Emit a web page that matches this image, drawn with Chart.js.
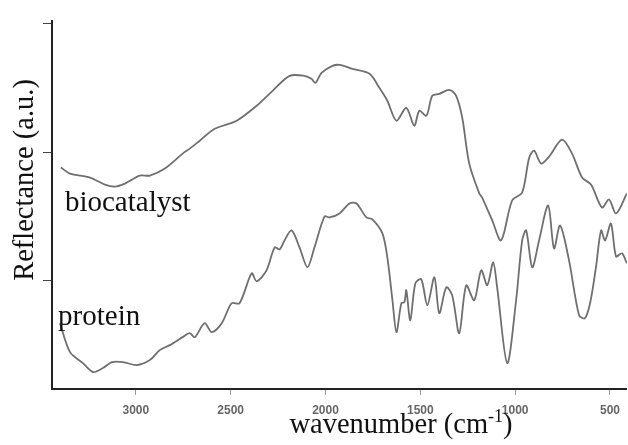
<!DOCTYPE html>
<html lang="en">
<head>
    <meta charset="UTF-8">
    <title>Reflectance spectra</title>
    <script src="https://cdn.jsdelivr.net/npm/chart.js"></script>
    <style>
        html, body {
            margin: 0;
            padding: 0;
            background: #fff;
        }
        #spectra {
            display: block;
        }
    </style>
</head>
<body>
    <canvas id="spectra" width="628" height="445"></canvas>
    <script>
// wavenumber (cm-1) / reflectance (a.u.)
const bioWavenumber = [3395, 3347, 3242, 3163, 3111, 3058, 2979, 2926, 2847, 2753, 2716, 2663, 2584, 2468, 2363,
    2279, 2189, 2111, 2074, 2053, 2021, 1963, 1926, 1858, 1768, 1716, 1674, 1626, 1574, 1532, 1505, 1468, 1437,
    1400, 1347, 1311, 1279, 1242, 1189, 1174, 1121, 1074, 1016, 963, 926, 900, 863, 821, 753, 700, 647, 600, 542,
    505, 468, 411];
const bioReflectance = [222, 216, 212, 205, 203, 206, 214, 214, 221, 236, 241, 249, 261, 269, 284,
    299, 314, 314, 311, 307, 317, 324, 325, 321, 316, 302, 289, 269, 282, 264, 279, 274, 294,
    296, 300, 294, 272, 226, 196, 192, 169, 149, 189, 197, 232, 239, 226, 233, 250, 236, 212, 205, 182,
    190, 176, 196];

const protWavenumber = [3400, 3347, 3279, 3226, 3174, 3126, 3068, 2995, 2926, 2874, 2821, 2753, 2716, 2689, 2637,
    2600, 2547, 2495, 2453, 2389, 2363, 2311, 2268, 2242, 2216, 2179, 2137, 2095, 2058, 2005, 1979, 1926, 1874,
    1837, 1784, 1753, 1700, 1674, 1647, 1626, 1600, 1584, 1574, 1553, 1526, 1495, 1463, 1426, 1400, 1363, 1332,
    1295, 1258, 1216, 1179, 1147, 1116, 1095, 1042, 995, 963, 942, 910, 874, 826, 795, 763, 716, 663, 632, 605,
    574, 547, 526, 495, 468, 437, 411];
const protReflectance = [66, 37, 26, 17, 21, 27, 27, 24, 29, 39, 44, 52, 56, 52, 66,
    57, 66, 86, 86, 116, 108, 119, 142, 140, 149, 159, 142, 122, 142, 173, 172, 176, 186,
    186, 172, 170, 156, 132, 89, 57, 86, 87, 99, 69, 106, 110, 84, 112, 76, 102, 94,
    56, 104, 89, 119, 104, 127, 102, 26, 89, 149, 159, 122, 149, 184, 141, 164, 129, 74, 71, 86,
    122, 159, 149, 166, 133, 136, 126];

const xTicks = [3000, 2500, 2000, 1500, 1000, 500];
const yTicks = [109, 237, 366];

// curve names written next to the spectra, anchored in data units
const curveLabels = [
    { text: 'biocatalyst', x: 3374, y: 178 },
    { text: 'protein', x: 3410, y: 64 }
];

const toPoints = (xs, ys) => xs.map((x, i) => ({ x: x, y: ys[i] }));

const serif = '"Liberation Serif", "Times New Roman", serif';

const textPlugin = {
    id: 'spectraText',
    afterDraw(chart) {
        const ctx = chart.ctx;
        const area = chart.chartArea;
        const xs = chart.scales.x;
        const ys = chart.scales.y;
        ctx.save();
        ctx.fillStyle = '#111';

        // curve labels
        ctx.font = '29px ' + serif;
        ctx.textAlign = 'left';
        ctx.textBaseline = 'alphabetic';
        curveLabels.forEach(l => {
            ctx.fillText(l.text, xs.getPixelForValue(l.x), ys.getPixelForValue(l.y));
        });

        // x axis title with superscript
        const main = 'wavenumber (cm';
        const sup = '-1';
        const close = ')';
        const big = '28.5px ' + serif;
        const small = '18px ' + serif;
        ctx.font = big;
        const wMain = ctx.measureText(main).width;
        const wClose = ctx.measureText(close).width;
        ctx.font = small;
        const wSup = ctx.measureText(sup).width;
        let tx = 401 - (wMain + wSup + wClose) / 2;
        const ty = 433;
        ctx.font = big;
        ctx.fillText(main, tx, ty);
        tx += wMain;
        ctx.font = small;
        ctx.fillText(sup, tx, ty - 11);
        tx += wSup;
        ctx.font = big;
        ctx.fillText(close, tx, ty);

        // y axis title
        ctx.translate(area.left - 26, 180);
        ctx.rotate(-Math.PI / 2);
        ctx.textAlign = 'center';
        ctx.textBaseline = 'middle';
        ctx.font = big;
        ctx.fillText('Reflectance (a.u.)', 0, 0);
        ctx.restore();
    }
};

new Chart(document.getElementById('spectra'), {
    type: 'line',
    data: {
        datasets: [
            {
                label: 'biocatalyst',
                data: toPoints(bioWavenumber, bioReflectance),
                borderColor: '#6f6f6f',
                borderWidth: 1.8,
                pointRadius: 0,
                tension: 0.3,
                fill: false
            },
            {
                label: 'protein',
                data: toPoints(protWavenumber, protReflectance),
                borderColor: '#6f6f6f',
                borderWidth: 1.8,
                pointRadius: 0,
                tension: 0.3,
                fill: false
            }
        ]
    },
    options: {
        responsive: false,
        animation: false,
        events: [],
        layout: { padding: { top: 21, right: 0, left: 0, bottom: 0 } },
        plugins: {
            legend: { display: false },
            tooltip: { enabled: false },
            title: { display: false }
        },
        scales: {
            x: {
                type: 'linear',
                reverse: true,
                min: 411,
                max: 3442,
                afterBuildTicks: scale => { scale.ticks = xTicks.map(v => ({ value: v })); },
                afterFit: scale => { scale.height = 56; },
                grid: {
                    drawOnChartArea: false,
                    drawTicks: true,
                    tickLength: 6,
                    color: '#999'
                },
                border: { display: true, color: '#222', width: 2 },
                ticks: {
                    padding: 8,
                    maxRotation: 0,
                    color: '#666',
                    callback: v => String(v),
                    font: { family: '"Liberation Sans", Arial, sans-serif', size: 12, weight: 'bold' }
                }
            },
            y: {
                type: 'linear',
                min: 0,
                max: 369,
                afterBuildTicks: scale => { scale.ticks = yTicks.map(v => ({ value: v })); },
                afterFit: scale => { scale.width = 52; },
                grid: {
                    drawOnChartArea: false,
                    drawTicks: true,
                    tickLength: 9,
                    color: '#444'
                },
                border: { display: true, color: '#222', width: 2 },
                ticks: { display: false }
            }
        }
    },
    plugins: [textPlugin]
});
    </script>
</body>
</html>
